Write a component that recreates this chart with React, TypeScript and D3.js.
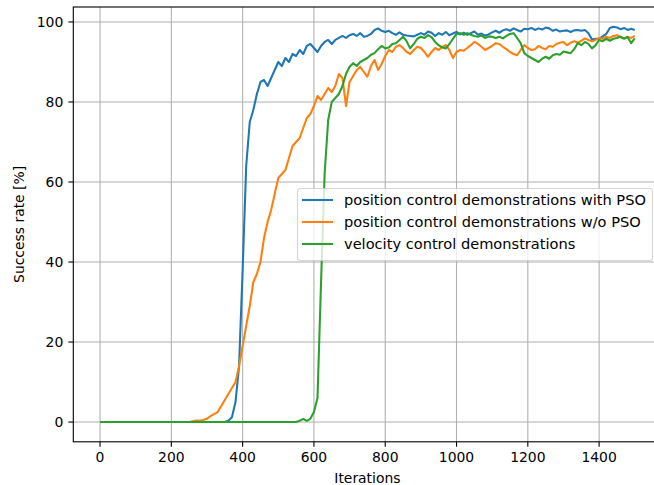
import React, { useEffect, useRef } from 'react';
import * as d3 from 'd3';

// sampled every 10 iterations, 0..1500
const iterations = d3.range(0, 1501, 10);

// position control demonstrations with PSO
const withPso = [
    0, 0, 0, 0, 0, 0, 0, 0, 0, 0,
    0, 0, 0, 0, 0, 0, 0, 0, 0, 0,
    0, 0, 0, 0, 0, 0, 0, 0, 0, 0,
    0, 0, 0, 0, 0, 0,
    0.3, 1.2, 5, 14, 38, 64, 75, 78, 82, 85,
    85.5, 84, 86, 88, 90, 89, 91, 90, 92, 91.5,
    93, 92, 94, 94.5, 93.5, 92.5, 94, 95, 95.5, 94.5,
    95.5, 96, 96.5, 96, 96.7, 97, 96.5, 97.2, 96.3, 96.5,
    97, 98, 98.4, 97.8, 97.5, 97.8, 97.2, 96.8, 97.4, 96.8,
    96.6, 96.5, 96.4, 96.8, 97.2, 96.8, 97.6, 97.3, 96.5, 97.2,
    96.8, 97.5, 96.7, 97.1, 97.5, 96.9, 97.3, 96.8, 97.2, 97.6,
    96.8, 97.1, 96.6, 96.9, 97.4, 97.8, 97.3, 97.9, 98.2, 97.8,
    98.4, 98.0, 97.6, 98.3, 98.2, 98.5, 98.0, 98.4, 98.1, 98.6,
    98.4, 97.8, 98.1, 97.6, 97.8, 97.9, 97.5, 97.9, 98.0, 97.8,
    98.0, 97.2, 95.6, 95.8, 95.8, 96.4, 97.0, 98.5, 98.8, 98.6,
    98.2, 98.5, 98.0, 98.3, 98.0,
];

// position control demonstrations w/o PSO
const withoutPso = [
    0, 0, 0, 0, 0, 0, 0, 0, 0, 0,
    0, 0, 0, 0, 0, 0, 0, 0, 0, 0,
    0, 0, 0, 0, 0, 0,
    0.2, 0.4, 0.3, 0.5, 0.8, 1.5, 2, 2.5, 4, 5.5,
    7, 8.5, 10, 14, 19, 24, 29, 35, 37, 40,
    46, 50, 53, 57, 61, 62, 63, 66, 69, 70,
    71, 73.5, 76, 77, 79, 81.5, 80.5, 82, 83.5, 82.5,
    84, 87, 86, 79, 85, 86.5, 88, 88.8, 87.5, 86.3,
    89, 90.5, 88, 89.5, 91.5, 93, 92.5, 93.8, 94.2, 93.5,
    92.5, 92, 93, 93.8, 93.5, 92.5, 91.3, 92.5, 93.5, 93,
    93.8, 94.2, 93, 91, 92.5, 93, 92.8, 93.5, 94.2, 95,
    94.5, 93.8, 93, 93.5, 94, 94.7, 94.5, 93.8, 93.2, 92.5,
    92, 91.7, 93, 94.2, 93.5, 93, 93.2, 94, 93.5, 93.2,
    94, 93.8, 94.5, 94.8, 95, 94.2, 94.8, 95.2, 94.8, 95.3,
    95.9, 95.5, 95.2, 95.5, 96, 95.8, 96.3, 96, 96.5, 96.7,
    96.2, 95.9, 96.3, 96, 96.5,
];

// velocity control demonstrations
const velocity = [
    0, 0, 0, 0, 0, 0, 0, 0, 0, 0,
    0, 0, 0, 0, 0, 0, 0, 0, 0, 0,
    0, 0, 0, 0, 0, 0, 0, 0, 0, 0,
    0, 0, 0, 0, 0, 0, 0, 0, 0, 0,
    0, 0, 0, 0, 0, 0, 0, 0, 0, 0,
    0, 0, 0, 0, 0, 0,
    0.3, 0.8, 0.3, 0.8, 2.5, 6, 35, 62, 75.5, 80,
    81, 82, 84, 87, 88.8, 89.7, 89, 90, 90.5, 91,
    91.8, 92.2, 93.2, 94, 93.4, 93.6, 94.5, 94.7, 95.5, 96.3,
    95.2, 93.4, 94.5, 95.8, 96.3, 96, 96.7, 96.2, 95, 94.2,
    93.6, 93.4, 94.5, 95.8, 97, 97.2, 96.8, 97.2, 96.8, 96.5,
    96.3, 96.6, 96, 96.4, 96.3, 96, 96.3, 95.9, 96.5, 97,
    97.2, 96, 94.7, 92.2, 91.5, 91, 90.5, 90, 90.8, 91.3,
    90.8, 91.7, 92, 91.8, 92.6, 92.4, 92.2, 93.2, 94.7, 94.2,
    95, 94.5, 93.4, 94.2, 95.5, 95.2, 95.8, 95.3, 95.8, 96,
    96.3, 95.8, 96.2, 94.7, 95.9,
];

const seriesNames = [
    'position control demonstrations with PSO',
    'position control demonstrations w/o PSO',
    'velocity control demonstrations',
];
const seriesColors = ['#1f77b4', '#ff7f0e', '#2ca02c'];
const xTicks = [0, 200, 400, 600, 800, 1000, 1200, 1400];
const yTicks = [0, 20, 40, 60, 80, 100];

const FONT = 'DejaVu Sans, Liberation Sans, sans-serif';

function App() {
    const svgRef = useRef(null);

    useEffect(() => {
        const width = 654;
        const height = 485;
        // axes box (right edge runs past the cropped picture)
        const box = { left: 73.3, right: 661.5, top: 7, bottom: 441.8 };

        const svg = d3.select(svgRef.current)
            .attr('width', width)
            .attr('height', height);
        svg.selectAll('*').remove();

        const all = [withPso, withoutPso, velocity];
        const xMax = d3.max(iterations);
        const yMax = d3.max(all.flat());
        // matplotlib style 5% margins
        const x = d3.scaleLinear()
            .domain([-0.05 * xMax, xMax * 1.05])
            .range([box.left, box.right]);
        const y = d3.scaleLinear()
            .domain([-0.05 * yMax, yMax * 1.05])
            .range([box.bottom, box.top]);

        svg.append('rect')
            .attr('width', width)
            .attr('height', height)
            .attr('fill', '#fff');

        svg.append('defs').append('clipPath')
            .attr('id', 'axclip')
            .append('rect')
            .attr('x', box.left)
            .attr('y', box.top)
            .attr('width', box.right - box.left)
            .attr('height', box.bottom - box.top);

        // grid
        const grid = svg.append('g')
            .attr('stroke', '#b0b0b0')
            .attr('stroke-width', 1.1);
        xTicks.forEach(t => {
            grid.append('line')
                .attr('x1', x(t)).attr('x2', x(t))
                .attr('y1', box.top).attr('y2', box.bottom);
        });
        yTicks.forEach(t => {
            grid.append('line')
                .attr('x1', box.left).attr('x2', box.right)
                .attr('y1', y(t)).attr('y2', y(t));
        });

        // lines
        const line = d3.line()
            .x((d, i) => x(iterations[i]))
            .y(d => y(d));
        const plot = svg.append('g').attr('clip-path', 'url(#axclip)');
        all.forEach((vals, k) => {
            plot.append('path')
                .attr('d', line(vals))
                .attr('fill', 'none')
                .attr('stroke', seriesColors[k])
                .attr('stroke-width', 2.08)
                .attr('stroke-linejoin', 'round');
        });

        // spines
        svg.append('rect')
            .attr('x', box.left)
            .attr('y', box.top)
            .attr('width', box.right - box.left)
            .attr('height', box.bottom - box.top)
            .attr('fill', 'none')
            .attr('stroke', '#000')
            .attr('stroke-width', 1.1);

        // x axis ticks + labels
        const xAxis = svg.append('g');
        xTicks.forEach(t => {
            xAxis.append('line')
                .attr('x1', x(t)).attr('x2', x(t))
                .attr('y1', box.bottom).attr('y2', box.bottom + 4.9)
                .attr('stroke', '#000').attr('stroke-width', 1.1);
            xAxis.append('text')
                .attr('x', x(t))
                .attr('y', box.bottom + 20.5)
                .attr('text-anchor', 'middle')
                .attr('font-family', FONT)
                .attr('font-size', 13.9)
                .text(t);
        });
        xAxis.append('text')
            .attr('x', (box.left + box.right) / 2)
            .attr('y', 483)
            .attr('text-anchor', 'middle')
            .attr('font-family', FONT)
            .attr('font-size', 13.9)
            .text('Iterations');

        // y axis ticks + labels
        const yAxis = svg.append('g');
        yTicks.forEach(t => {
            yAxis.append('line')
                .attr('x1', box.left - 4.9).attr('x2', box.left)
                .attr('y1', y(t)).attr('y2', y(t))
                .attr('stroke', '#000').attr('stroke-width', 1.1);
            yAxis.append('text')
                .attr('x', box.left - 10)
                .attr('y', y(t))
                .attr('dy', '0.36em')
                .attr('text-anchor', 'end')
                .attr('font-family', FONT)
                .attr('font-size', 13.9)
                .text(t);
        });
        yAxis.append('text')
            .attr('transform', `translate(24,${(box.top + box.bottom) / 2}) rotate(-90)`)
            .attr('text-anchor', 'middle')
            .attr('font-family', FONT)
            .attr('font-size', 13.9)
            .text('Success rate [%]');

        // legend
        const legend = svg.append('g').attr('transform', 'translate(297,188)');
        legend.append('rect')
            .attr('x', 0.5).attr('y', 0.5)
            .attr('width', 355).attr('height', 72)
            .attr('rx', 3)
            .attr('fill', '#fff').attr('fill-opacity', 0.8)
            .attr('stroke', '#ccc').attr('stroke-opacity', 0.8)
            .attr('stroke-width', 1.1);
        seriesNames.forEach((name, k) => {
            const cy = 12 + k * 22;
            legend.append('line')
                .attr('x1', 5).attr('x2', 36)
                .attr('y1', cy).attr('y2', cy)
                .attr('stroke', seriesColors[k])
                .attr('stroke-width', 2.08);
            legend.append('text')
                .attr('x', 47)
                .attr('y', cy)
                .attr('dy', '0.36em')
                .attr('font-family', FONT)
                .attr('font-size', 14.6)
                .attr('fill', '#000')
                .text(name);
        });
    }, []);

    return (
        <svg ref={svgRef} style={{ position: 'absolute', left: 0, top: 0 }}></svg>
    );
}

export default App;
